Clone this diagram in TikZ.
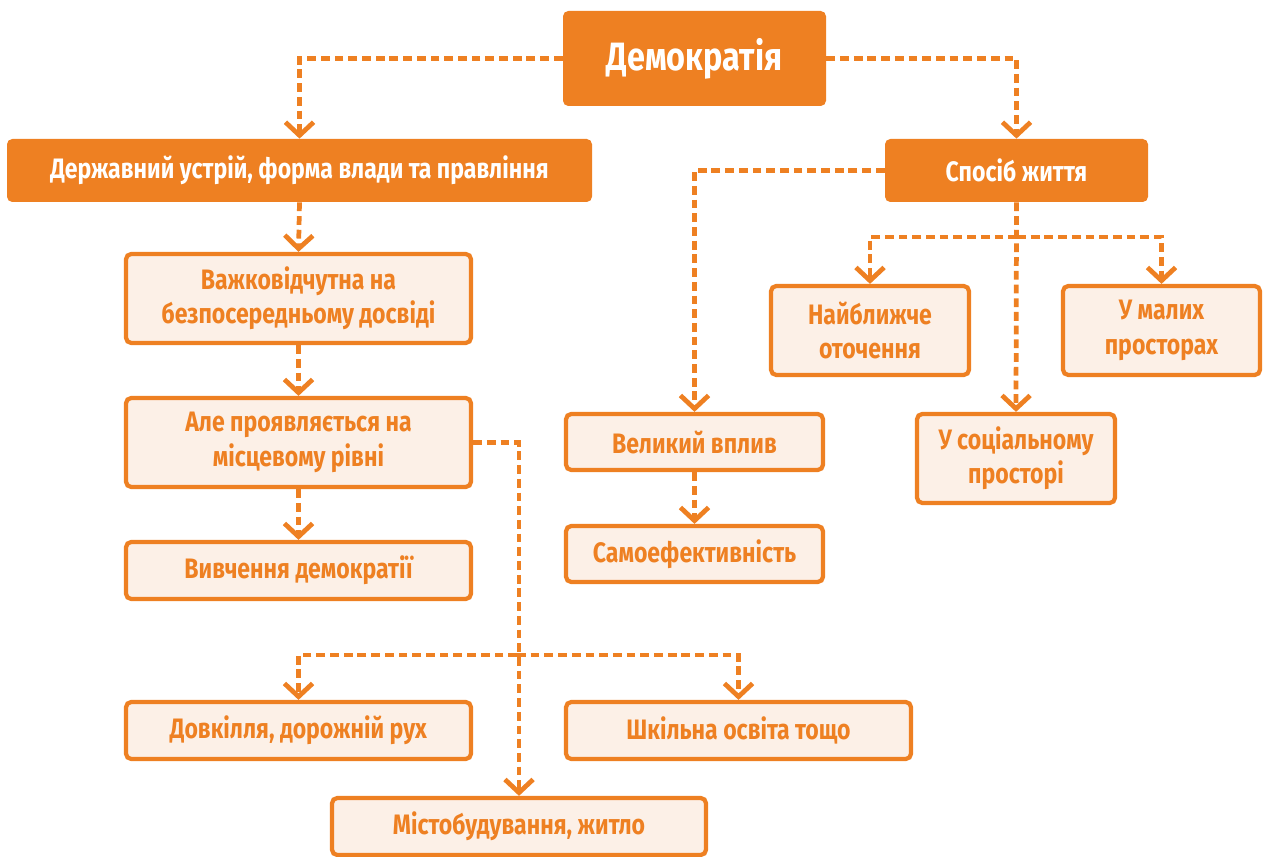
\documentclass[tikz,border=0pt]{standalone}
\usepackage{fontspec}
\setmainfont{Fira Sans}[FakeStretch=0.82]
\usetikzlibrary{arrows.meta}
\definecolor{brand}{RGB}{238,128,34}
\definecolor{pale}{RGB}{252,240,231}
\tikzset{
  txt/.style={font=\bfseries\fontsize{16}{19.5}\selectfont},
  sz/.style 2 args={minimum width=#1*0.02cm, minimum height=#2*0.02cm},
  solidbox/.style={fill=brand, rounded corners=3pt, text=white, txt, align=center, inner sep=0pt},
  palebox/.style={fill=pale, draw=brand, line width=2.4pt, rounded corners=3pt, text=brand, txt, align=center, inner sep=0pt},
  wire/.style={draw=brand, line width=2.7pt, dash pattern=on 5pt off 2.8pt},
  link/.style={wire, -{Straight Barb[length=7.5pt,width=16pt]}}
}
\begin{document}
\begin{tikzpicture}[x=0.02cm,y=-0.02cm]
\useasboundingbox (0,0) rectangle (1263,857);

% top level
\node[solidbox, sz={263}{95}, font=\bfseries\fontsize{22.5}{27}\selectfont] (demo) at (694.5,58.5) {Демократія};
\node[solidbox, sz={585}{63}] (gov) at (299.5,170.5) {Державний устрій, форма влади та правління};
\node[solidbox, sz={263}{63}] (life) at (1016.5,170.5) {Спосіб життя};

% left branch
\node[palebox, sz={345}{89}] (feel) at (298.5,298.5) {Важковідчутна на\\безпосередньому досвіді};
\node[palebox, sz={345}{89}] (local) at (298.5,442.5) {Але проявляється на\\місцевому рівні};
\node[palebox, sz={345}{57}] (study) at (298.5,570.5) {Вивчення демократії};
\node[palebox, sz={345}{57}] (env) at (298.5,730.5) {Довкілля, дорожній рух};
\node[palebox, sz={345}{57}] (school) at (738.5,730.5) {Шкільна освіта тощо};
\node[palebox, sz={374}{57}] (city) at (519,826.5) {Містобудування, житло};

% right branch
\node[palebox, sz={257}{56}] (big) at (694.5,442) {Великий вплив};
\node[palebox, sz={257}{56}] (self) at (694.5,554) {Самоефективність};
\node[palebox, sz={198}{89}] (near) at (870,330.5) {Найближче\\оточення};
\node[palebox, sz={197}{89}] (small) at (1161.5,330.5) {У малих\\просторах};
\node[palebox, sz={198}{89}] (social) at (1016,458.5) {У соціальному\\просторі};

% junction points
\coordinate (jlocal) at (517,655);
\coordinate (jlife) at (1017,237);

% connectors
\draw[link] (demo.west) -| (gov.north);
\draw[link] (demo.east) -| (life.north);
\draw[link] (gov.south) -- (feel.north);
\draw[link] (feel.south) -- (local.north);
\draw[link] (local.south) -- (study.north);
\draw[link] (local.east) -| (city.north);
\draw[link] (jlocal) -| (env.north);
\draw[link] (jlocal) -| (school.north);
\draw[link] (life.west) -| (big.north);
\draw[link] (big.south) -- (self.north);
\draw[link] (life.south) -- (social.north);
\draw[link] (jlife) -| (near.north);
\draw[link] (jlife) -| (small.north);
\end{tikzpicture}
\end{document}
